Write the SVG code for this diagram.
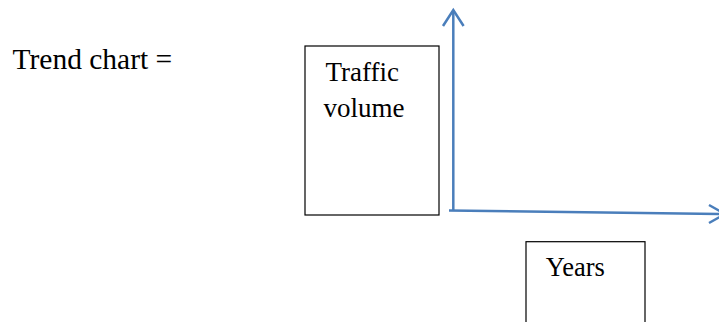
<svg xmlns="http://www.w3.org/2000/svg" width="719" height="322" viewBox="0 0 719 322">
  <style>
    .lbl { font-family: "Liberation Serif", "Times New Roman", serif; fill: #000; }
    .box { fill: #fff; stroke: #000; stroke-width: 1.2; }
    .axis { fill: none; stroke: #4a7ebb; stroke-width: 2.5; }
  </style>
  <rect width="719" height="322" fill="#fff"/>

  <g id="title">
    <text class="lbl" x="12.5" y="69" font-size="29.5">Trend chart =</text>
  </g>

  <g id="traffic-volume">
    <rect class="box" x="305" y="46" width="134" height="169"/>
    <text class="lbl" x="325.5" y="80.5" font-size="27">Traffic</text>
    <text class="lbl" x="323.5" y="117.3" font-size="27">volume</text>
  </g>

  <g id="years">
    <rect class="box" x="526" y="241.7" width="119" height="100"/>
    <text class="lbl" x="545.7" y="276" font-size="26.5">Years</text>
  </g>

  <g id="connectors">
    <!-- vertical axis with open arrowhead -->
    <path class="axis" d="M453.3 210.5 V10"/>
    <path class="axis" d="M443 26 L453.3 10 L463.6 26"/>
    <!-- horizontal axis with open arrowhead -->
    <path class="axis" d="M449 210.5 L725 214"/>
    <path class="axis" d="M709 205 L725 214 L709 223"/>
  </g>
</svg>
